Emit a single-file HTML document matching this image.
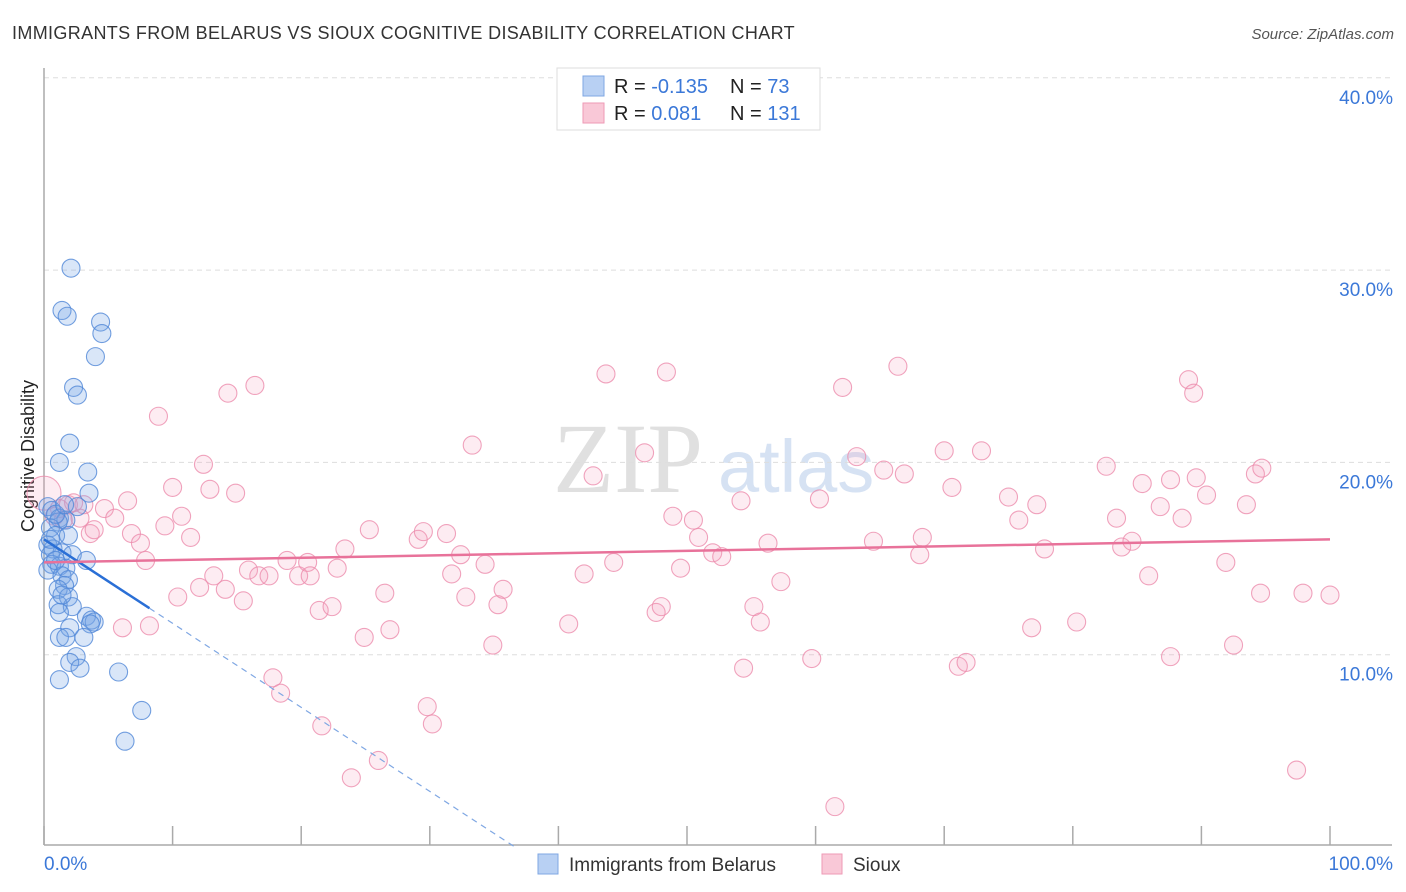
<!DOCTYPE html>
<html><head><meta charset="utf-8"><style>
body{margin:0;background:#fff;font-family:"Liberation Sans",sans-serif;}
svg{display:block}
</style></head><body>
<svg id="chart" width="1406" height="892" xmlns="http://www.w3.org/2000/svg">
<text x="12" y="39" font-size="18" fill="#333" letter-spacing="0.35">IMMIGRANTS FROM BELARUS VS SIOUX COGNITIVE DISABILITY CORRELATION CHART</text>
<text x="1394" y="39" font-size="15" fill="#555" font-style="italic" text-anchor="end">Source: ZipAtlas.com</text>
<text x="34" y="456" font-size="18" fill="#222" text-anchor="middle" transform="rotate(-90 34 456)">Cognitive Disability</text>
<text x="553" y="492" font-size="100" fill="#e0e0e0" font-family="Liberation Serif,serif">ZIP</text>
<text x="718" y="492" font-size="74" fill="#d6e2f3">atlas</text>
<g id="grid"></g><g id="axes"></g><g id="pink"></g><g id="blue"></g><g id="lines"></g>
<g>
<rect x="557" y="68" width="263" height="62" fill="#fff" stroke="#ddd"/>
<rect x="583" y="76" width="21" height="20" fill="#b8d0f3" stroke="#7fa7e3"/>
<rect x="583" y="103" width="21" height="20" fill="#f9c8d7" stroke="#ee9ab6"/>
<text x="614" y="93" font-size="20" fill="#222">R = <tspan fill="#3b78d8">-0.135</tspan></text>
<text x="730" y="93" font-size="20" fill="#222">N = <tspan fill="#3b78d8"> 73</tspan></text>
<text x="614" y="120" font-size="20" fill="#222">R = <tspan fill="#3b78d8"> 0.081</tspan></text>
<text x="730" y="120" font-size="20" fill="#222">N = <tspan fill="#3b78d8">131</tspan></text>
</g>
<g>
<rect x="538" y="854" width="20" height="20" fill="#b8d0f3" stroke="#7fa7e3"/>
<text x="569" y="871" font-size="19" fill="#333">Immigrants from Belarus</text>
<rect x="822" y="854" width="20" height="20" fill="#f9c8d7" stroke="#ee9ab6"/>
<text x="853" y="871" font-size="19" fill="#333">Sioux</text>
</g>
</svg>
<script>
const yTicks=[10,20,30,40];
const yTickLabels=["10.0%","20.0%","30.0%","40.0%"];
const xTickVals=[0,10,20,30,40,50,60,70,80,90,100];
const blueX=[2.1,1.4,1.8,4.4,4.5,4.0,2.3,2.6,2.0,1.2,3.4,3.5,2.6,0.3,0.6,1.2,1.7,1.1,0.5,0.9,1.9,0.3,0.7,1.4,2.2,0.5,3.3,0.6,1.2,1.7,0.3,1.4,1.9,1.6,1.1,1.9,1.1,2.2,1.2,3.3,3.7,3.9,3.6,2.0,1.2,1.7,3.1,2.5,2.0,2.8,1.2,5.8,7.6,6.3,0.9,1.6,0.5,0.9,1.4];
const blueY=[30.1,27.9,27.6,27.3,26.7,25.5,23.9,23.5,21.0,20.0,19.5,18.4,17.7,17.7,17.5,17.1,17.0,16.9,16.6,16.2,16.2,15.7,15.5,15.3,15.2,15.2,14.9,14.7,14.6,14.5,14.4,14.1,13.9,13.6,13.4,13.0,12.6,12.5,12.2,12.0,11.8,11.7,11.6,11.4,10.9,10.9,10.9,9.9,9.6,9.3,8.7,9.1,7.1,5.5,17.3,17.8,16.0,14.9,13.1];
const pinkX=[0.0,8.9,14.3,16.4,12.4,10.0,12.9,14.9,6.5,4.7,5.5,2.8,1.2,1.9,3.6,6.8,7.5,9.4,10.7,11.4,7.9,6.1,8.2,10.4,12.1,13.2,14.1,15.5,15.9,16.7,17.5,18.9,19.8,20.5,20.7,21.4,22.4,22.8,23.4,25.3,24.9,26.5,26.9,29.1,29.5,31.3,31.7,32.4,32.8,34.3,35.3,35.7,34.9,33.3,17.8,18.4,21.6,23.9,26.0,29.8,30.2,43.7,42.7,46.7,48.4,48.9,50.5,50.9,52.0,54.2,56.3,57.3,55.2,55.7,54.4,59.7,60.3,62.1,63.2,64.5,65.3,66.4,66.9,68.3,68.1,70.0,70.6,71.1,71.7,72.9,75.0,75.8,77.2,77.8,76.8,80.3,82.6,83.4,83.8,84.6,85.4,85.9,86.8,87.6,88.5,89.0,89.4,89.6,90.4,91.9,92.5,93.5,94.2,94.6,94.7,97.4,97.9,100.0,87.6,42.0,44.3,40.8,47.6,48.0,61.5,49.5,52.7,1.5,2.3,3.1,0.8,3.9];
const pinkY=[18.4,22.4,23.6,24.0,19.9,18.7,18.6,18.4,18.0,17.6,17.1,17.1,17.6,17.8,16.3,16.3,15.8,16.7,17.2,16.1,14.9,11.4,11.5,13.0,13.5,14.1,13.4,12.8,14.4,14.1,14.1,14.9,14.1,14.8,14.1,12.3,12.5,14.5,15.5,16.5,10.9,13.2,11.3,16.0,16.4,16.3,14.2,15.2,13.0,14.7,12.6,13.4,10.5,20.9,8.8,8.0,6.3,3.6,4.5,7.3,6.4,24.6,19.3,20.5,24.7,17.2,17.0,16.1,15.3,18.0,15.8,13.8,12.5,11.7,9.3,9.8,18.1,23.9,20.3,15.9,19.6,25.0,19.4,16.1,15.2,20.6,18.7,9.4,9.6,20.6,18.2,17.0,17.8,15.5,11.4,11.7,19.8,17.1,15.6,15.9,18.9,14.1,17.7,19.1,17.1,24.3,23.6,19.2,18.3,14.8,10.5,17.8,19.4,13.2,19.7,4.0,13.2,13.1,9.9,14.2,14.8,11.6,12.2,12.5,2.1,14.5,15.1,17.0,17.9,17.8,17.2,16.5];
const blueFit=[16.0,-0.437];
const pinkFit=[14.8,0.012];
const X0=44,X1=1330,YB=847,PX10=19.23;
const sx=v=>X0+(X1-X0)*v/100, sy=v=>YB-PX10*v;
const NS="http://www.w3.org/2000/svg";
function mk(tag,attrs,parent){const e=document.createElementNS(NS,tag);for(const k in attrs)e.setAttribute(k,attrs[k]);document.getElementById(parent).appendChild(e);return e;}
yTicks.forEach((t,i)=>{
 const g=mk('line',{x1:44,x2:1392,y1:sy(t),y2:sy(t),stroke:'#ddd','stroke-dasharray':'5,4'},'grid');
 
 
 const l=mk('text',{x:1393,y:sy(t)+26,'font-size':19,fill:'#3b78d8','text-anchor':'end'},'grid');
 l.textContent=yTickLabels[i];
 
 
});
const ax=mk('line',{x1:44,x2:44,y1:68,y2:845,stroke:'#aaa','stroke-width':1.5},'axes');


const bx=mk('line',{x1:44,x2:1392,y1:845,y2:845,stroke:'#aaa','stroke-width':1.5},'axes');


xTickVals.forEach(t=>{
 const tk=mk('line',{x1:sx(t),x2:sx(t),y1:826,y2:845,stroke:'#aaa','stroke-width':1.5},'axes');
 
 
});
const xl0=mk('text',{x:44,y:870,'font-size':19,fill:'#3b78d8'},'axes');xl0.textContent='0.0%';


const xl1=mk('text',{x:1393,y:870,'font-size':19,fill:'#3b78d8','text-anchor':'end'},'axes');xl1.textContent='100.0%';


pinkX.forEach((x,i)=>{
 const c=mk('circle',{cx:sx(x),cy:sy(pinkY[i]),r:i===0?17:9,fill:'rgba(244,160,188,0.2)',stroke:'rgba(236,140,172,0.8)','stroke-width':1.1},'pink');
 
 
});
blueX.forEach((x,i)=>{
 const c=mk('circle',{cx:sx(x),cy:sy(blueY[i]),r:9,fill:'rgba(120,165,230,0.28)',stroke:'rgba(80,135,215,0.8)','stroke-width':1.1},'blue');
 
 
});
const bl=mk('line',{x1:sx(0),y1:sy(blueFit[0]),x2:sx(8.2),y2:sy(blueFit[0]+blueFit[1]*8.2),stroke:'#2a6fd6','stroke-width':2.5},'lines');


const xz=-blueFit[0]/blueFit[1];
const bd=mk('line',{x1:sx(8.2),y1:sy(blueFit[0]+blueFit[1]*8.2),x2:sx(xz),y2:sy(0),stroke:'#7fa7e3','stroke-width':1.2,'stroke-dasharray':'6,5'},'lines');


const pl=mk('line',{x1:sx(0),y1:sy(pinkFit[0]),x2:sx(100),y2:sy(pinkFit[0]+pinkFit[1]*100),stroke:'#e8729a','stroke-width':2.5},'lines');


</script>
</body></html>
